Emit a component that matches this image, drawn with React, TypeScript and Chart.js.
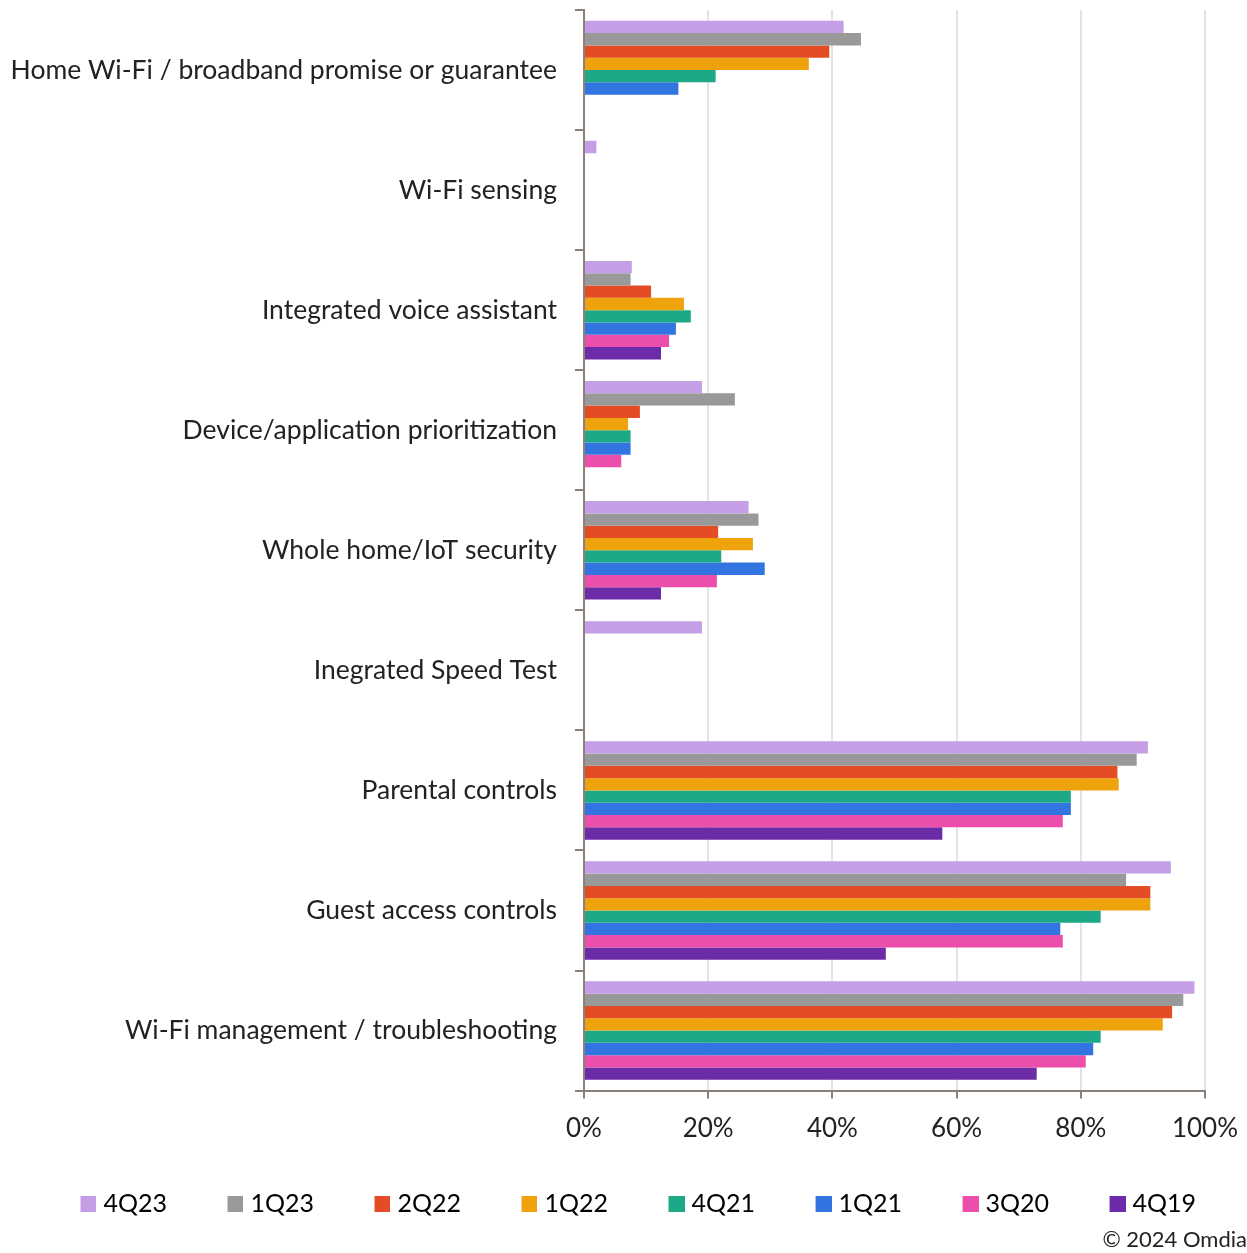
import React, { useEffect, useRef } from 'react';
import { Chart, registerables } from 'chart.js';

Chart.register(...registerables);

const categories = [
  'Home Wi-Fi / broadband promise or guarantee',
  'Wi-Fi sensing',
  'Integrated voice assistant',
  'Device/application prioritization',
  'Whole home/IoT security',
  'Inegrated Speed Test',
  'Parental controls',
  'Guest access controls',
  'Wi-Fi management / troubleshooting',
];

const seriesLabels = ['4Q23', '1Q23', '2Q22', '1Q22', '4Q21', '1Q21', '3Q20', '4Q19'];

const s4Q23 = [41.8, 2.0, 7.7, 19.0, 26.5, 19.0, 90.8, 94.5, 98.3];
const s1Q23 = [44.6, null, 7.5, 24.3, 28.1, null, 89.0, 87.3, 96.5];
const s2Q22 = [39.5, null, 10.8, 9.0, 21.6, null, 85.9, 91.2, 94.7];
const s1Q22 = [36.2, null, 16.1, 7.1, 27.2, null, 86.1, 91.2, 93.2];
const s4Q21 = [21.2, null, 17.2, 7.5, 22.1, null, 78.4, 83.2, 83.2];
const s1Q21 = [15.2, null, 14.8, 7.5, 29.1, null, 78.4, 76.7, 82.0];
const s3Q20 = [null, null, 13.7, 6.0, 21.4, null, 77.1, 77.1, 80.8];
const s4Q19 = [null, null, 12.4, null, 12.4, null, 57.7, 48.6, 72.9];

const seriesValues = [s4Q23, s1Q23, s2Q22, s1Q22, s4Q21, s1Q21, s3Q20, s4Q19];
const seriesColors = ['#C59FE5', '#999999', '#E34C24', '#EEA20B', '#1DA888', '#3375E0', '#EC4FAB', '#6C2CA7'];

const xTickValues = [0, 20, 40, 60, 80, 100];
const copyright = '\u00A9 2024 Omdia';

const FONT = 'Lato, "Open Sans", sans-serif';
const TEXT = '#222222';
const AXIS = '#8B8078';
const GRID = '#E3E3E3';

// legend swatch: a 16px square at the right end of a wider transparent image
function makeSwatch(color: string): HTMLCanvasElement {
  const c = document.createElement('canvas');
  c.width = 51;
  c.height = 16;
  const g = c.getContext('2d') as CanvasRenderingContext2D;
  g.fillStyle = color;
  g.fillRect(c.width - 16, 0, 16, 16);
  return c;
}

export default function App() {
  const ref = useRef<HTMLCanvasElement>(null);

  useEffect(() => {
    const swatches = seriesColors.map(makeSwatch);
    const chart = new Chart(ref.current as HTMLCanvasElement, {
      type: 'bar',
      data: {
        labels: categories,
        datasets: seriesLabels.map((label, i) => ({
          label,
          data: seriesValues[i],
          backgroundColor: seriesColors[i],
          borderWidth: 0,
          categoryPercentage: 0.82,
          barPercentage: 1.0,
        })),
      },
      options: {
        indexAxis: 'y',
        responsive: false,
        animation: false,
        layout: { padding: { top: 10, left: 0, right: 0, bottom: 0 } },
        scales: {
          x: {
            min: 0,
            max: 100,
            afterBuildTicks: (s: any) => {
              s.ticks = xTickValues.map((v) => ({ value: v }));
            },
            afterFit: (s: any) => {
              s.paddingRight = 42;
              s.paddingLeft = 0;
              s.height = 70;
            },
            ticks: {
              callback: (v: any) => v + '%',
              font: { family: FONT, size: 26 },
              color: TEXT,
              padding: 14,
              maxRotation: 0,
            },
            grid: {
              color: (c: any) => (c.tick && c.tick.value === 0 ? 'rgba(0,0,0,0)' : GRID),
              lineWidth: 2,
              tickColor: AXIS,
              tickLength: 8,
              drawTicks: true,
            },
            border: { display: true, color: AXIS, width: 2 },
          },
          y: {
            afterFit: (s: any) => {
              s.width = 584;
              s.paddingTop = 0;
              s.paddingBottom = 0;
            },
            ticks: {
              font: { family: FONT, size: 26.5 },
              color: TEXT,
              padding: 18,
            },
            grid: {
              offset: true,
              drawOnChartArea: false,
              drawTicks: true,
              tickLength: 9,
              tickColor: AXIS,
              lineWidth: 2,
            },
            border: { display: true, color: AXIS, width: 2 },
          },
        },
        plugins: {
          tooltip: { enabled: false },
          legend: {
            position: 'bottom',
            align: 'center',
            labels: {
              usePointStyle: true,
              pointStyleWidth: 40,
              boxWidth: 16,
              boxHeight: 16,
              padding: 31,
              font: { family: FONT, size: 25 },
              color: TEXT,
              generateLabels: () =>
                seriesLabels.map((label, i) => ({
                  text: label,
                  fillStyle: seriesColors[i],
                  strokeStyle: seriesColors[i],
                  lineWidth: 0,
                  hidden: false,
                  datasetIndex: i,
                  pointStyle: swatches[i],
                })),
            },
          },
          subtitle: {
            display: true,
            text: copyright,
            position: 'bottom',
            align: 'end',
            color: TEXT,
            font: { family: FONT, size: 22, lineHeight: 1.2 },
            padding: { top: 0, bottom: 0 },
          },
        },
      },
    } as any);
    return () => chart.destroy();
  }, []);

  return (
    <div style={{ position: 'absolute', left: 0, top: 0, width: 1247, height: 1253 }}>
      <canvas ref={ref} width={1247} height={1253} style={{ display: 'block' }} />
    </div>
  );
}
